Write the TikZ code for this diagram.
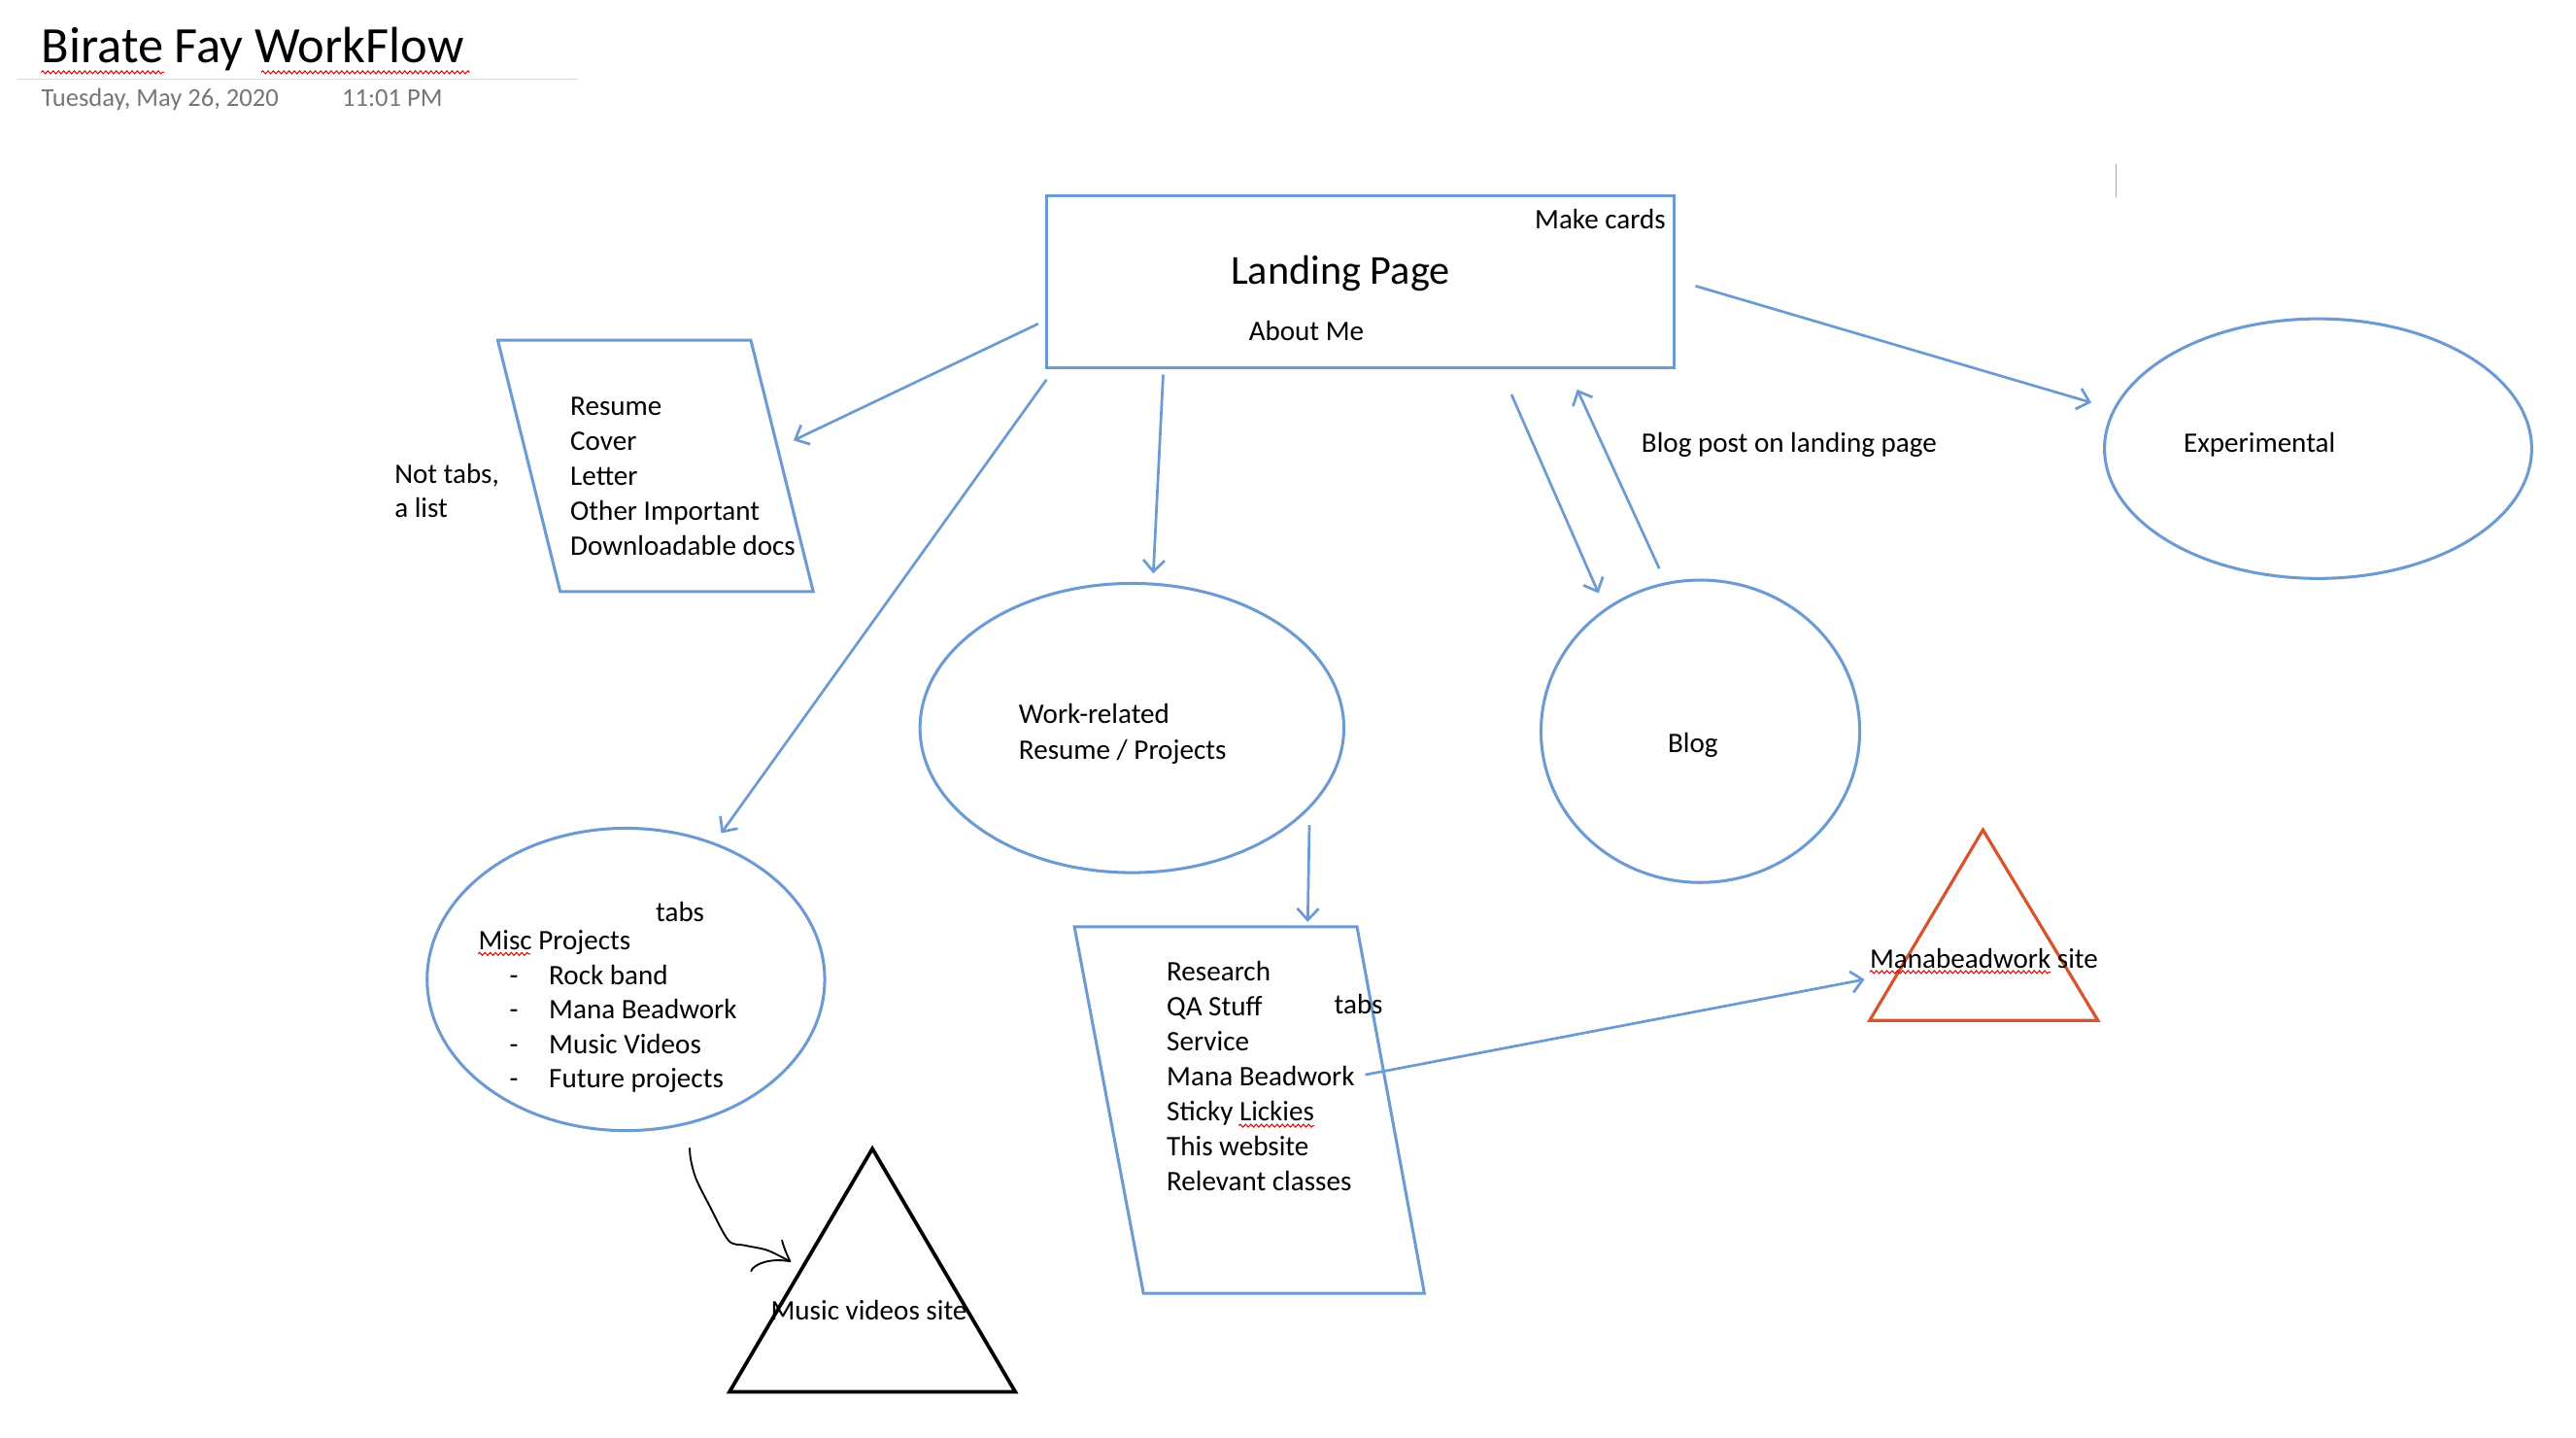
\documentclass[tikz,border=0pt]{standalone}
\usepackage{fontspec}
\setmainfont{Carlito}
\usetikzlibrary{arrows.meta,shapes.geometric,decorations.pathmorphing}
\definecolor{lblue}{RGB}{108,155,212}
\definecolor{tri}{RGB}{216,84,46}
\definecolor{dgray}{RGB}{118,118,118}
\tikzset{
  txt/.style={anchor=base west, inner sep=0pt, font=\fontsize{17.2pt}{21pt}\selectfont},
  link/.style={draw=lblue, line width=1.6pt, -{Straight Barb[length=7pt,width=13pt,line width=1.6pt]}},
  outline/.style={draw=lblue, line width=1.8pt},
  squig/.style={draw=red!90!black, line width=0.6pt, decorate, decoration={snake,amplitude=0.9pt,segment length=3.2pt}}
}
\begin{document}
\begin{tikzpicture}[x=1pt,y=-1pt]
\useasboundingbox (0,0) rectangle (1568,875);
\fill[white] (0,0) rectangle (1568,875);

% header
\node[anchor=base west, inner sep=0pt, font=\fontsize{31pt}{37pt}\selectfont] (title) at (25,38) {Birate Fay WorkFlow};
\draw[squig] (25,44) -- (100,44);
\draw[squig] (159,44) -- (286,44);
\draw[gray!30, line width=0.8pt] (10,48) -- (352,48);
\node[anchor=base west, inner sep=0pt, text=dgray, font=\fontsize{15.7pt}{19pt}\selectfont] (date) at (25,65) {Tuesday, May 26, 2020};
\node[anchor=base west, inner sep=0pt, text=dgray, font=\fontsize{15.7pt}{19pt}\selectfont] (time) at (208,65) {11:01 PM};
\draw[gray!70, line width=0.9pt] (1288,100) -- (1288,120);

% landing page
\node[outline, rectangle, minimum width=382pt, minimum height=105pt] (land) at (828,171.5) {};
\node[txt, anchor=base east] (cards) at (1014,139) {Make cards};
\node[txt, font=\fontsize{25pt}{30pt}\selectfont] (landt) at (749,173) {Landing Page};
\node[txt] (about) at (760,207) {About Me};

% documents parallelogram
\draw[outline] (303,207) -- (457,207) -- (495,360) -- (341,360) -- cycle;
\coordinate (docs) at (399,283);
\foreach \t [count=\i from 0] in {Resume,Cover,Letter,Other Important,Downloadable docs}
  \node[txt] (doc\i) at (347,253+21.25*\i) {\t};
\node[txt] (nt1) at (240,294) {Not tabs,};
\node[txt] (nt2) at (240,315) {a list};

% work ellipse
\node[ellipse, outline, minimum width=258pt, minimum height=176pt] (work) at (689,443) {};
\node[txt] (w1) at (620,440) {Work-related};
\node[txt] (w2) at (620,462) {Resume / Projects};

% blog
\node[ellipse, outline, minimum width=194pt, minimum height=184pt] (blog) at (1035,445) {};
\node[txt] (blogt) at (1015,458) {Blog};
\node[txt] (bpost) at (999,275) {Blog post on landing page};

% experimental
\node[ellipse, outline, minimum width=260pt, minimum height=158pt] (exp) at (1411,273) {};
\node[txt] (expt) at (1329,275) {Experimental};

% misc ellipse
\node[ellipse, outline, minimum width=242pt, minimum height=184pt] (misc) at (381,596) {};
\node[txt] (tabs1) at (399,561) {tabs};
\node[txt] (misct) at (291,578) {Misc Projects};
\draw[squig] (291,580.5) -- (323,580.5);
\foreach \t [count=\i from 0] in {Rock band,Mana Beadwork,Music Videos,Future projects}{
  \node[txt] (md\i) at (310,599+21*\i) {-};
  \node[txt] (mi\i) at (334,599+21*\i) {\t};
}

% research parallelogram
\draw[outline] (654,564) -- (826,564) -- (867,787) -- (696,787) -- cycle;
\coordinate (res) at (760,675);
\foreach \t [count=\i from 0] in {Research,QA Stuff,Service,Mana Beadwork,Sticky Lickies,This website,Relevant classes}
  \node[txt] (r\i) at (710,597+21.3*\i) {\t};
\draw[squig] (754,685) -- (800,685);
\node[txt] (tabs2) at (812,617) {tabs};

% red triangle
\draw[draw=tri, line width=1.9pt, line join=miter] (1207,505) -- (1277,621) -- (1138,621) -- cycle;
\coordinate (mana) at (1207,580);
\node[txt] (manat) at (1138,589) {Manabeadwork site};
\draw[squig] (1138,591.5) -- (1248,591.5);

% black triangle
\draw[line width=2.2pt] (531,699) -- (618,847) -- (444,847) -- cycle;
\coordinate (music) at (531,790);
\node[txt] (musict) at (469,803) {Music videos site};

% connectors
\coordinate (a1s) at (632,197); \coordinate (a1e) at (483,268);
\coordinate (a2s) at (637,231); \coordinate (a2e) at (439,507);
\coordinate (a3s) at (708,228); \coordinate (a3e) at (702,349);
\coordinate (a4s) at (920,240); \coordinate (a4e) at (973,361);
\coordinate (a5s) at (1010,346); \coordinate (a5e) at (960,237);
\coordinate (a6s) at (1032,174); \coordinate (a6e) at (1273,245);
\coordinate (a7s) at (797,502); \coordinate (a7e) at (796,561);
\coordinate (a8s) at (831,654); \coordinate (a8e) at (1135,596);
\draw[link] (a1s) -- (a1e);
\draw[link] (a2s) -- (a2e);
\draw[link] (a3s) -- (a3e);
\draw[link] (a4s) -- (a4e);
\draw[link] (a5s) -- (a5e);
\draw[link] (a6s) -- (a6e);
\draw[link] (a7s) -- (a7e);
\draw[link] (a8s) -- (a8e);

% hand-drawn arrow
\draw[line width=1.1pt, line cap=round, line join=round] plot[smooth, tension=0.5] coordinates {(419.8,698.8) (420.5,706) (423.7,717.4) (431.6,733.2) (443.4,754.8) (453.3,757.8) (467.1,760.8) (480.9,767.6)};
\draw[line width=1.1pt, line cap=round] (476,754.8) .. controls (477.5,760) .. (480.9,767.6);
\draw[line width=1.1pt, line cap=round] (457.2,773.5) .. controls (458,770) and (468,765) .. (480.9,767.6);
\end{tikzpicture}
\end{document}
